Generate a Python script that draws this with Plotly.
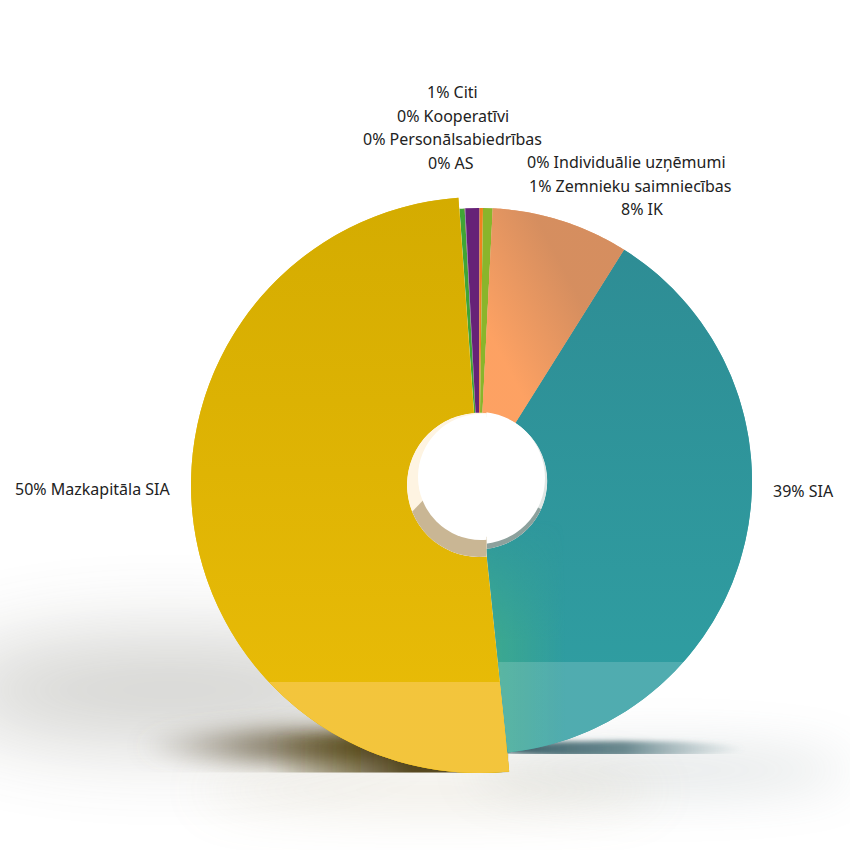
import base64
import numpy as np
import plotly.graph_objects as go

# ---- data ----
labels = ["SIA", "Mazkapitāla SIA", "AS", "Personālsabiedrības", "Kooperatīvi",
          "Citi", "Individuālie uzņēmumi", "Zemnieku saimniecības", "IK"]
values = [39.35, 50.45, 0.30, 0.02, 0.02, 0.83, 0.20, 0.57, 8.10]
shown_percent = [39, 50, 0, 0, 0, 1, 0, 1, 8]
colors = ["#2f979c", "#dfb404", "#3fa535", "#c7375b", "#2c6fb3",
          "#662277", "#f0821e", "#8ab52b", "#e69a61"]

# ---- layout constants (pixels of the 850 page) ----
W = 850
START = 32.1
C1, R1 = (479.0, 481.0), 273.0
C2, R2 = (479.0, 485.0), 288.0
HOLE = 0.25
PULLED = 1
text_pos = [(803, 491), (92, 489), (451, 163), (452, 139), (453, 116),
            (452, 92), (626, 162), (630, 186), (642, 209)]


def domain(c, r):
    return dict(x=[(c[0] - r) / W, (c[0] + r) / W],
                y=[1 - (c[1] + r) / W, 1 - (c[1] - r) / W])


def sector(c, r, ri, a0, a1):
    pts = []
    for a in np.radians(np.linspace(a0, a1, 90)):
        pts.append((c[0] + r * np.sin(a), c[1] - r * np.cos(a)))
    for a in np.radians(np.linspace(a1, a0, 40)):
        pts.append((c[0] + ri * np.sin(a), c[1] - ri * np.cos(a)))
    return "M" + "L".join(f"{x:.2f} {y:.2f}" for x, y in pts) + "Z"


def svg_uri(body):
    svg = (f'<svg xmlns="http://www.w3.org/2000/svg" width="{W}" height="{W}" '
           f'viewBox="0 0 {W} {W}">{body}</svg>')
    return "data:image/svg+xml;base64," + base64.b64encode(svg.encode()).decode()


# slice angles from the values
edges = START + np.concatenate([[0], np.cumsum(values)]) / np.sum(values) * 360
teal_path = sector(C1, R1, R1 * HOLE, edges[0], edges[1])
yellow_path = sector(C2, R2, R2 * HOLE, edges[1], edges[2])
ik_path = sector(C1, R1, R1 * HOLE, edges[8], edges[9])

FR = 'filterUnits="userSpaceOnUse" x="-400" y="-400" width="1650" height="1650"'
shadow_svg = svg_uri(f"""
<defs>
<filter id="b40" {FR}><feGaussianBlur stdDeviation="42"/></filter>
<filter id="b25" {FR}><feGaussianBlur stdDeviation="26"/></filter>
<filter id="b10" {FR}><feGaussianBlur stdDeviation="11"/></filter>
<filter id="b6" {FR}><feGaussianBlur stdDeviation="6"/></filter>
<filter id="b2" {FR}><feGaussianBlur stdDeviation="2.5"/></filter>
<linearGradient id="br" gradientUnits="userSpaceOnUse" x1="135" y1="0" x2="420" y2="0">
<stop offset="0" stop-color="#7d7565" stop-opacity="0"/><stop offset=".45" stop-color="#7a7058" stop-opacity=".85"/>
<stop offset="1" stop-color="#5b4a15"/></linearGradient>
<linearGradient id="dk" gradientUnits="userSpaceOnUse" x1="270" y1="0" x2="410" y2="0">
<stop offset="0" stop-color="#46380a" stop-opacity="0"/><stop offset="1" stop-color="#46380a"/></linearGradient>
<linearGradient id="tl" gradientUnits="userSpaceOnUse" x1="505" y1="0" x2="745" y2="0">
<stop offset="0" stop-color="#3a5f68"/><stop offset=".5" stop-color="#4a7078" stop-opacity=".8"/>
<stop offset="1" stop-color="#7a9aa0" stop-opacity="0"/></linearGradient>
<clipPath id="c1"><rect x="0" y="0" width="509" height="772.5"/></clipPath>
<clipPath id="c2"><rect x="505" y="0" width="345" height="754"/></clipPath>
</defs>
<ellipse cx="170" cy="690" rx="230" ry="52" fill="#6a6a60" opacity=".30" filter="url(#b40)"/>
<ellipse cx="660" cy="770" rx="190" ry="22" fill="#78888a" opacity=".22" filter="url(#b25)"/>
<ellipse cx="430" cy="790" rx="230" ry="18" fill="#a89a70" opacity=".22" filter="url(#b25)"/>
<g clip-path="url(#c1)">
<ellipse cx="320" cy="746" rx="180" ry="17" fill="url(#br)" filter="url(#b10)"/>
<rect x="260" y="735" width="240" height="50" fill="url(#dk)" opacity=".9" filter="url(#b6)"/>
</g>
<g clip-path="url(#c2)"><ellipse cx="620" cy="749" rx="125" ry="8" fill="url(#tl)" filter="url(#b2)"/></g>
""")

overlay_svg = svg_uri(f"""
<defs>
<linearGradient id="yg" gradientUnits="userSpaceOnUse" x1="0" y1="197" x2="0" y2="682">
<stop offset="0" stop-color="#d3ab00"/><stop offset="1" stop-color="#e8bb07"/></linearGradient>
<linearGradient id="tg" gradientUnits="userSpaceOnUse" x1="0" y1="250" x2="0" y2="662">
<stop offset="0" stop-color="#2e8c94"/><stop offset="1" stop-color="#2f9da1"/></linearGradient>
<linearGradient id="tg2" gradientUnits="userSpaceOnUse" x1="487" y1="0" x2="565" y2="0">
<stop offset="0" stop-color="#3fab8c" stop-opacity=".9"/><stop offset="1" stop-color="#3fab8c" stop-opacity="0"/></linearGradient>
<linearGradient id="tg3" gradientUnits="userSpaceOnUse" x1="0" y1="520" x2="0" y2="640">
<stop offset="0" stop-color="#fff" stop-opacity="0"/><stop offset="1" stop-color="#fff" stop-opacity="1"/></linearGradient>
<mask id="tm"><rect width="850" height="850" fill="url(#tg3)"/></mask>
<linearGradient id="ig" gradientUnits="userSpaceOnUse" x1="490" y1="335" x2="575" y2="290">
<stop offset="0" stop-color="#ffa263"/><stop offset="1" stop-color="#d48d5f"/></linearGradient>
<clipPath id="cy"><path d="{yellow_path}"/></clipPath>
<clipPath id="ct"><path d="{teal_path}"/></clipPath>
<clipPath id="lhs"><rect x="0" y="0" width="486.5" height="850"/></clipPath>
<clipPath id="rhs"><rect x="486.5" y="0" width="364" height="850"/></clipPath>
<clipPath id="ltan"><path d="M380 545 L433 490 L560 490 L560 600 L380 600Z"/></clipPath>
<clipPath id="rgrey"><path d="M486 600 L486 500 L525 500 L560 520 L560 600Z"/></clipPath>
</defs>
<path d="{teal_path}" fill="url(#tg)" fill-opacity=".92"/>
<path d="{yellow_path}" fill="url(#yg)" fill-opacity=".92"/>
<path d="{ik_path}" fill="url(#ig)" fill-opacity=".92"/>
<g clip-path="url(#ct)">
<rect x="480" y="400" width="100" height="400" fill="url(#tg2)" mask="url(#tm)"/>
<rect x="200" y="662" width="600" height="120" fill="#fff" fill-opacity=".16"/>
</g>
<g clip-path="url(#cy)">
<rect x="150" y="682" width="400" height="110" fill="#f4c541" fill-opacity=".92"/>
</g>
<g clip-path="url(#rhs)">
<circle cx="{C1[0]}" cy="{C1[1]}" r="{R1*HOLE:.1f}" fill="#dfe6e4"/>
<circle cx="{C1[0]}" cy="{C1[1]}" r="{R1*HOLE:.1f}" fill="#8da19d" clip-path="url(#rgrey)"/>
<circle cx="479" cy="478" r="66" fill="#fff"/>
</g>
<g clip-path="url(#lhs)">
<circle cx="{C2[0]}" cy="{C2[1]}" r="{R2*HOLE:.1f}" fill="#fef4e2"/>
<circle cx="{C2[0]}" cy="{C2[1]}" r="{R2*HOLE:.1f}" fill="#c9b694" clip-path="url(#ltan)"/>
<circle cx="481" cy="477" r="63" fill="#fff"/>
</g>
<circle cx="481" cy="477" r="60" fill="#fff"/>
""")

visible_1 = [c if i != PULLED else "rgba(0,0,0,0)" for i, c in enumerate(colors)]
visible_2 = [c if i == PULLED else "rgba(0,0,0,0)" for i, c in enumerate(colors)]

fig = go.Figure()
for c, r, col in ((C1, R1, visible_1), (C2, R2, visible_2)):
    fig.add_trace(go.Pie(
        labels=labels, values=values, sort=False, direction="clockwise",
        rotation=START, hole=HOLE, domain=domain(c, r),
        marker=dict(colors=col, line=dict(width=0)),
        textinfo="none", showlegend=False,
    ))

annotations = [
    dict(x=p[0] / W, y=1 - p[1] / W, xref="paper", yref="paper", showarrow=False,
         text=f"{pc}% {lab}", xanchor="center", yanchor="middle",
         font=dict(family="Noto Sans", size=16, color="#222222"))
    for lab, pc, p in zip(labels, shown_percent, text_pos)
]

images = [
    dict(source=shadow_svg, xref="paper", yref="paper", x=0, y=1, sizex=1, sizey=1,
         sizing="stretch", xanchor="left", yanchor="top", layer="below"),
    dict(source=overlay_svg, xref="paper", yref="paper", x=0, y=1, sizex=1, sizey=1,
         sizing="stretch", xanchor="left", yanchor="top", layer="above"),
]

fig.update_layout(width=W, height=W, margin=dict(l=0, r=0, t=0, b=0),
                  paper_bgcolor="rgba(0,0,0,0)", plot_bgcolor="rgba(0,0,0,0)",
                  annotations=annotations, images=images)

fig.write_html("out.html", config=dict(displayModeBar=False),
               post_script="document.body.style.margin='0';document.documentElement.style.background='#fff';")
